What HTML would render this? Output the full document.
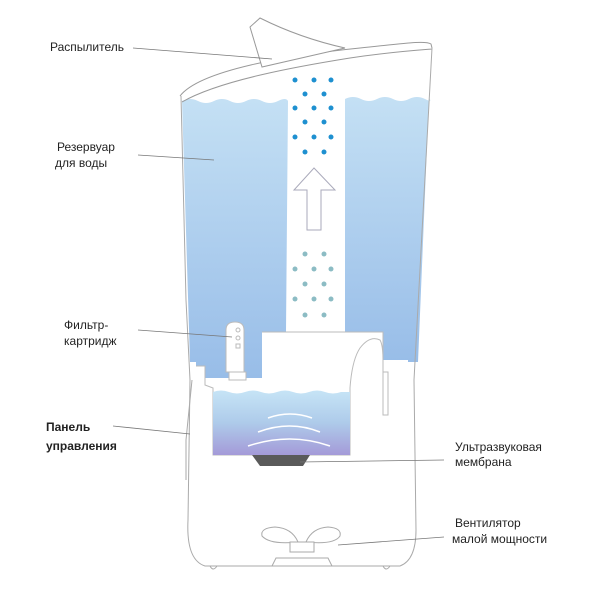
<!DOCTYPE html>
<html><head><meta charset="utf-8"><style>
html,body{margin:0;padding:0;background:#fff;width:600px;height:600px;overflow:hidden}
svg{display:block}
text{font-family:"Liberation Sans",sans-serif;font-size:12px;fill:#222}
</style></head><body>
<svg width="600" height="600" viewBox="0 0 600 600" xmlns="http://www.w3.org/2000/svg">
<defs>
<linearGradient id="w" x1="0" y1="0" x2="0" y2="1">
<stop offset="0" stop-color="#c4e0f4"/><stop offset="1" stop-color="#98bde8"/></linearGradient>
<linearGradient id="b" x1="0" y1="0" x2="0" y2="1">
<stop offset="0" stop-color="#c6e4f6"/><stop offset="0.5" stop-color="#aecbea"/><stop offset="1" stop-color="#a49ad8"/></linearGradient>
</defs>
<path d="M182,101 q8,-4 16,0 t16,0 t16,0 t16,0 t16,0 t16,0 t10,0 L286,332 L262,332 L262,378 L205,378 L205,366 L196,366 L196,362 L190,362 Z" fill="url(#w)"/>
<path d="M345,99 q8,-4 16,0 t16,0 t16,0 t16,0 t16,0 t4,-1 L418,362 L408,362 L408,360 L383,360 L383,332 L345,332 Z" fill="url(#w)"/>
<path d="M180,96 C200,70 290,55 360,48 C400,44 425,40 431,44 L432,48" fill="none" stroke="#999" stroke-width="1"/>
<path d="M182,102 C220,80 300,66 350,58 C390,52 420,50 432,49" fill="none" stroke="#999" stroke-width="1"/>
<path d="M262,67 L250,27 L260,18 Q300,38 345,48 L262,67 Z" fill="#fff" stroke="#999" stroke-width="1"/>
<path d="M181,96 L186,300 L190,380 L188,520 Q186,560 205,566 L400,566 Q416,560 416,530 L414,380 L432,48" fill="none" stroke="#aaa" stroke-width="1"/>
<path d="M192,380 L186,440 L186,480" fill="none" stroke="#aaa" stroke-width="1"/>
<path d="M196,366 L205,366 L205,385 L213,388 L213,455 L350,455 L350,388" fill="none" stroke="#bbb" stroke-width="1"/>
<path d="M262,332 L383,332 L383,360" fill="none" stroke="#bbb" stroke-width="1"/>
<path d="M350,388 Q352,360 360,348 Q370,335 380,340 Q383,345 383,360 L383,372 L388,372 L388,415 L383,415 L383,372" fill="none" stroke="#bbb" stroke-width="1"/>
<path d="M213,392 q8,-3 16,0 t16,0 t16,0 t16,0 t16,0 t16,0 t16,0 t16,0 L350,392 L350,455 L213,455 Z" fill="url(#b)"/>
<path d="M268,418 Q290,410 312,418" fill="none" stroke="#fff" stroke-width="1.5"/>
<path d="M258,432 Q290,420 320,432" fill="none" stroke="#fff" stroke-width="1.5"/>
<path d="M248,446 Q290,432 330,446" fill="none" stroke="#fff" stroke-width="1.5"/>
<path d="M252,455 L310,455 L303,466 L260,466 Z" fill="#5a5a5a"/>
<path d="M226,330 Q226,322 235,322 Q244,322 244,330 L244,372 L226,372 Z" fill="#fff" stroke="#bbb" stroke-width="1"/>
<rect x="229" y="372" width="17" height="8" fill="#fff" stroke="#bbb" stroke-width="1"/>
<circle cx="238" cy="330" r="2" fill="none" stroke="#bbb"/><circle cx="238" cy="338" r="2" fill="none" stroke="#bbb"/>
<rect x="236" y="344" width="4" height="4" fill="none" stroke="#bbb"/>
<path d="M298,542 Q270,545 262,536 Q260,528 275,527 Q292,528 298,542 Z" fill="#fff" stroke="#aaa"/>
<path d="M306,542 Q334,545 340,536 Q342,528 328,527 Q312,528 306,542 Z" fill="#fff" stroke="#aaa"/>
<rect x="290" y="542" width="24" height="10" fill="#fff" stroke="#aaa"/>
<path d="M272,566 L276,558 L328,558 L332,566" fill="none" stroke="#aaa"/>
<path d="M210,566 q3,6 7,0 M383,566 q3,6 7,0" fill="none" stroke="#aaa"/>
<path d="M314,168 L335,190 L321,190 L321,230 L307,230 L307,190 L294,190 Z" fill="#fff" stroke="#aab" stroke-width="1"/>
<g fill="#1e90d0">
<circle cx="295" cy="80" r="2.5"/><circle cx="314" cy="80" r="2.5"/><circle cx="331" cy="80" r="2.5"/>
<circle cx="305" cy="94" r="2.5"/><circle cx="324" cy="94" r="2.5"/>
<circle cx="295" cy="108" r="2.5"/><circle cx="314" cy="108" r="2.5"/><circle cx="331" cy="108" r="2.5"/>
<circle cx="305" cy="122" r="2.5"/><circle cx="324" cy="122" r="2.5"/>
<circle cx="295" cy="137" r="2.5"/><circle cx="314" cy="137" r="2.5"/><circle cx="331" cy="137" r="2.5"/>
<circle cx="305" cy="152" r="2.5"/><circle cx="324" cy="152" r="2.5"/>
</g>
<g fill="#8cbcc4">
<circle cx="305" cy="254" r="2.5"/><circle cx="324" cy="254" r="2.5"/>
<circle cx="295" cy="269" r="2.5"/><circle cx="314" cy="269" r="2.5"/><circle cx="331" cy="269" r="2.5"/>
<circle cx="305" cy="284" r="2.5"/><circle cx="324" cy="284" r="2.5"/>
<circle cx="295" cy="299" r="2.5"/><circle cx="314" cy="299" r="2.5"/><circle cx="331" cy="299" r="2.5"/>
<circle cx="305" cy="315" r="2.5"/><circle cx="324" cy="315" r="2.5"/>
</g>
<g stroke="#777" stroke-width="0.8" fill="none">
<line x1="133" y1="48" x2="272" y2="59"/>
<line x1="138" y1="155" x2="214" y2="160"/>
<line x1="138" y1="330" x2="232" y2="337"/>
<line x1="113" y1="426" x2="190" y2="434"/>
<line x1="300" y1="462" x2="444" y2="460"/>
<line x1="338" y1="545" x2="444" y2="537"/>
</g>
<text x="50" y="51">Распылитель</text>
<text x="57" y="151">Резервуар</text>
<text x="55" y="167">для воды</text>
<text x="64" y="329">Фильтр-</text>
<text x="64" y="345">картридж</text>
<text x="46" y="431" font-weight="bold">Панель</text>
<text x="46" y="450" font-weight="bold">управления</text>
<text x="455" y="451">Ультразвуковая</text>
<text x="455" y="466">мембрана</text>
<text x="455" y="527">Вентилятор</text>
<text x="452" y="543">малой мощности</text>
</svg>
</body></html>
